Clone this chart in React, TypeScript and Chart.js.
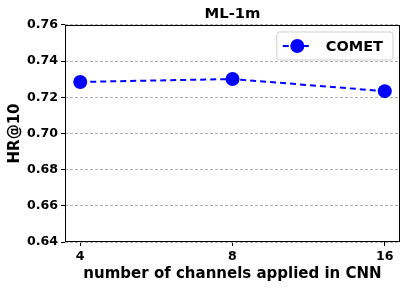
import React, { useEffect, useRef } from "react";
import { Chart, registerables } from "chart.js";

Chart.register(...registerables);

const xLabels = ["4", "8", "16"];
const hrValues = [0.7285, 0.7301, 0.7234];
const seriesLabel = "COMET";
const yTicks = [0.64, 0.66, 0.68, 0.7, 0.72, 0.74, 0.76];
const chartTitle = "ML-1m";
const xTitle = "number of channels applied in CNN";
const yTitle = "HR@10";

const FONT = "'DejaVu Sans', sans-serif";
const BLUE = "#0000ff";

const framePlugin = {
  id: "frame",
  afterDatasetsDraw(chart: any) {
    const { ctx, chartArea: a } = chart;
    ctx.save();
    ctx.strokeStyle = "#000";
    ctx.lineWidth = 1;
    ctx.setLineDash([]);
    ctx.strokeRect(Math.round(a.left) + 0.5, Math.round(a.top) + 0.5, Math.round(a.right - a.left) - 1, Math.round(a.bottom - a.top) - 1);
    ctx.restore();
  },
  afterDraw(chart: any) {
    const { ctx, chartArea: a } = chart;
    const label = chart.data.datasets[0].label;
    ctx.save();
    ctx.font = `bold 14.5px ${FONT}`;
    const tw = ctx.measureText(label).width;
    const boxRight = a.right - 7;
    const boxTop = a.top + 7;
    const boxH = 28;
    const textRight = boxRight - 10;
    const textLeft = textRight - tw;
    const lineEnd = textLeft - 14;
    const lineStart = lineEnd - 29;
    const boxLeft = lineStart - 6;
    const cy = boxTop + boxH / 2;
    ctx.beginPath();
    const r = 3;
    const w = boxRight - boxLeft;
    ctx.moveTo(boxLeft + r, boxTop);
    ctx.arcTo(boxLeft + w, boxTop, boxLeft + w, boxTop + boxH, r);
    ctx.arcTo(boxLeft + w, boxTop + boxH, boxLeft, boxTop + boxH, r);
    ctx.arcTo(boxLeft, boxTop + boxH, boxLeft, boxTop, r);
    ctx.arcTo(boxLeft, boxTop, boxLeft + w, boxTop, r);
    ctx.closePath();
    ctx.fillStyle = "rgba(255,255,255,0.8)";
    ctx.fill();
    ctx.strokeStyle = "#d0d0d0";
    ctx.lineWidth = 1;
    ctx.stroke();
    ctx.beginPath();
    ctx.setLineDash([6, 4]);
    ctx.strokeStyle = BLUE;
    ctx.lineWidth = 2;
    ctx.moveTo(lineStart, cy);
    ctx.lineTo(lineEnd, cy);
    ctx.stroke();
    ctx.setLineDash([]);
    ctx.beginPath();
    ctx.arc((lineStart + lineEnd) / 2, cy, 7, 0, Math.PI * 2);
    ctx.fillStyle = BLUE;
    ctx.fill();
    ctx.fillStyle = "#000";
    ctx.textBaseline = "middle";
    ctx.textAlign = "left";
    ctx.fillText(label, textLeft, cy + 1);
    ctx.restore();
  },
};

export default function App() {
  const ref = useRef<HTMLCanvasElement | null>(null);
  useEffect(() => {
    document.body.style.margin = "0";
    if (!ref.current) return;
    const chart = new Chart(ref.current, {
      type: "line",
      data: {
        datasets: [
          {
            label: seriesLabel,
            data: xLabels.map((_, i) => ({ x: i, y: hrValues[i] })),
            borderColor: BLUE,
            backgroundColor: BLUE,
            borderWidth: 2,
            borderDash: [6, 4],
            pointRadius: 7,
            pointHoverRadius: 7,
            pointBackgroundColor: BLUE,
            pointBorderColor: BLUE,
            pointBorderWidth: 0,
            fill: false,
            tension: 0,
          },
        ],
      },
      options: {
        responsive: false,
        animation: false,
        layout: { padding: { left: 0, right: 10, top: 0, bottom: 0 } },
        plugins: {
          legend: { display: false },
          tooltip: { enabled: false },
          title: {
            display: true,
            text: chartTitle,
            fullSize: false,
            color: "#000",
            font: { family: FONT, size: 14.8, weight: "bold", lineHeight: 1.2 },
            padding: { top: 5, bottom: 2.2 },
          },
        },
        scales: {
          x: {
            type: "linear",
            min: -0.1,
            max: 2.1,
            afterBuildTicks: (scale: any) => {
              scale.ticks = xLabels.map((_, i) => ({ value: i }));
            },
            afterFit: (scale: any) => {
              scale.height = 46;
            },
            ticks: {
              callback: (v: any) => xLabels[v as number] ?? "",
              color: "#000",
              font: { family: FONT, size: 12.6, weight: "bold" },
              padding: 3,
              maxRotation: 0,
              autoSkip: false,
            },
            grid: {
              drawOnChartArea: false,
              drawTicks: true,
              tickLength: 4,
              tickColor: "#000",
              tickWidth: 1,
            },
            border: { display: false },
            title: {
              display: true,
              text: xTitle,
              color: "#000",
              font: { family: FONT, size: 15, weight: "bold", lineHeight: 1.2 },
              padding: { top: 0, bottom: 5 },
            },
          },
          y: {
            min: yTicks[0],
            max: yTicks[yTicks.length - 1],
            afterBuildTicks: (scale: any) => {
              scale.ticks = yTicks.map((v) => ({ value: v }));
            },
            afterFit: (scale: any) => {
              scale.width = 65;
            },
            ticks: {
              callback: (v: any) => Number(v).toFixed(2),
              color: "#000",
              font: { family: FONT, size: 12.6, weight: "bold" },
              padding: 3,
            },
            grid: {
              color: "#b0b0b0",
              lineWidth: 1,
              drawTicks: true,
              tickLength: 4,
              tickColor: "#000",
              tickWidth: 1,
            },
            border: { display: false, dash: [3, 2] },
            title: {
              display: true,
              text: yTitle,
              color: "#000",
              font: { family: FONT, size: 15, weight: "bold", lineHeight: 1.2 },
              padding: { top: 6, bottom: 0 },
            },
          },
        },
      } as any,
      plugins: [framePlugin],
    });
    return () => chart.destroy();
  }, []);
  return (
    <div style={{ position: "absolute", left: 0, top: 0, width: 410, height: 288 }}>
      <canvas ref={ref} width={410} height={288} style={{ display: "block" }} />
    </div>
  );
}
